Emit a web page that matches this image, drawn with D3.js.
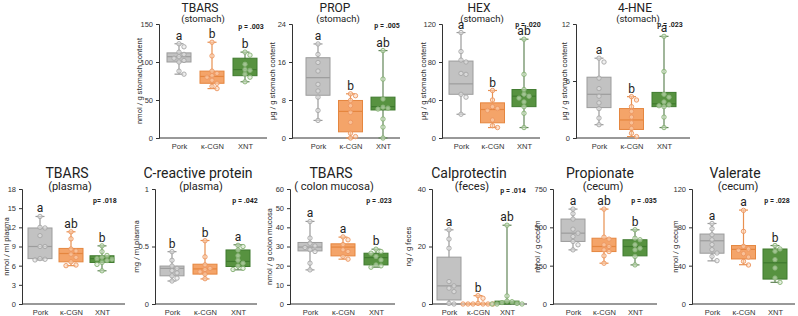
<!DOCTYPE html>
<html>
<head>
<meta charset="utf-8">
<script src="https://cdn.jsdelivr.net/npm/d3@7"></script>
<style>
  body { margin: 0; background: #fff; }
  svg { font-family: Roboto, "Liberation Sans", Arial, sans-serif; }
  .axis path, .axis line { stroke: #333; }
  .axis text { fill: #333; font-size: 7.5px; }
</style>
</head>
<body>
<svg width="798" height="316"></svg>
<script>
/* chart values, one small array per thing */
var groups = ["Pork", "κ-CGN", "XNT"];

var titles = ["TBARS", "PROP", "HEX", "4-HNE",
  "TBARS", "C-reactive protein", "TBARS", "Calprotectin", "Propionate", "Valerate"];
var subtitles = ["(stomach)", "(stomach)", "(stomach)", "(stomach)",
  "(plasma)", "(plasma)", "( colon mucosa)", "(feces)", "(cecum)", "(cecum)"];
var yLabels = ["nmol / g stomach content", "µg / g stomach content", "µg / g stomach content",
  "µg / g stomach content", "nmol / ml plasma", "mg / ml plasma", "nmol / g colon mucosa",
  "ng / g feces", "nmol / g cecum", "nmol / g cecum"];
var yMax = [150, 24, 120, 12, 18, 1, 60, 40, 750, 120];
var yTicks = [[0, 50, 100, 150], [0, 8, 16, 24], [0, 40, 80, 120], [0, 6, 12],
  [0, 3, 6, 9, 12, 15, 18], [0, 0.5, 1], [0, 10, 20, 30, 40, 50, 60], [0, 20, 40],
  [0, 250, 500, 750], [0, 40, 80, 120]];
var pValues = ["p = .003", "p = .005", "p = .020", "p = .023",
  "p= .018", "p = .042", "p = .023", "p = .014", "p = .035", "p = .028"];
var letters = [["a", "b", "b"], ["a", "b", "ab"], ["a", "b", "ab"], ["a", "b", "a"],
  ["a", "ab", "b"], ["b", "b", "a"], ["a", "a", "b"], ["a", "b", "ab"],
  ["a", "ab", "b"], ["a", "a", "b"]];

/* [min, q1, median, q3, max] per group */
var boxStats = [
  [[84, 100, 107, 112, 124], [65, 72, 81, 88, 126], [74, 82, 90, 105, 113]],
  [[3.7, 9.0, 12.7, 16.9, 19.8], [0, 1.3, 5.6, 7.9, 9.3], [0, 5.9, 6.6, 8.6, 18.4]],
  [[25, 46, 57, 81, 111], [11, 16, 30, 37, 50], [11, 33, 44, 51, 104]],
  [[1.4, 3.2, 4.6, 6.4, 8.4], [0.15, 0.9, 1.9, 3.1, 4.35], [1.1, 3.3, 3.6, 4.8, 10.7]],
  [[6.9, 7.1, 9.0, 11.9, 13.7], [6.0, 6.6, 7.9, 8.7, 11.3], [5.2, 6.5, 7.1, 7.55, 9.1]],
  [[0.2, 0.245, 0.31, 0.33, 0.455], [0.218, 0.26, 0.305, 0.346, 0.552], [0.297, 0.326, 0.37, 0.47, 0.515]],
  [[17.8, 27.7, 29.7, 32.1, 43.1], [23.4, 25.1, 29.7, 31.4, 34.9], [19.2, 20.4, 24.2, 26.5, 28.6]],
  [[0, 1.4, 6.3, 16.3, 25.8], [0, 0, 0, 0.2, 2.9], [0, 0, 0.5, 1.0, 27.4]],
  [[353, 408, 462, 554, 619], [266, 342, 375, 429, 619], [255, 314, 375, 419, 484]],
  [[45, 53, 66, 73, 84], [41, 47, 57, 61, 98], [22.6, 26, 43, 57.4, 61]]
];

var points = [
  [[124, 120, 113, 110, 107, 105, 102, 100, 88, 84], [126, 108, 88, 85, 82, 80, 76, 72, 68, 65], [113, 109, 97, 90, 89, 84, 80, 74]],
  [[19.8, 17.6, 15.9, 14.1, 11.3, 9.9, 8.6, 5.8, 3.7], [9.3, 8.9, 7.9, 6.8, 5.4, 3.3, 1.0, 0.3, 0], [18.4, 12.4, 8.2, 6.5, 6.3, 6.1, 4.0, 2.3, 0]],
  [[111, 91, 82, 80, 68, 67, 46, 43, 25], [50, 40, 33, 31, 29, 19, 13, 11], [104, 67, 51, 46, 44, 42, 38, 33, 26, 11]],
  [[8.4, 8.0, 6.3, 5.2, 4.4, 3.7, 3.1, 2.1, 1.4], [4.35, 4.0, 3.3, 2.8, 2.2, 1.6, 1.0, 0.5, 0.15], [10.7, 7.0, 4.6, 4.3, 3.8, 3.5, 3.4, 3.3, 2.2, 1.1]],
  [[13.7, 12.0, 11.9, 10.7, 9.0, 9.0, 7.1, 7.0, 6.9], [11.3, 10.2, 8.6, 8.3, 7.8, 7.3, 6.6, 6.1, 6.0], [9.1, 8.2, 7.6, 7.3, 7.1, 7.0, 6.8, 6.5, 6.2, 5.2]],
  [[0.455, 0.38, 0.33, 0.31, 0.29, 0.27, 0.245, 0.225, 0.2], [0.55, 0.41, 0.34, 0.31, 0.30, 0.28, 0.26, 0.22], [0.51, 0.5, 0.47, 0.42, 0.38, 0.355, 0.33, 0.31, 0.3]],
  [[43, 34.4, 31.7, 30.3, 29.5, 28.3, 27.4, 21.3, 17.8], [35, 33.5, 31, 28.3, 27.4, 24.8, 23.4], [28.6, 27.4, 26.5, 24.8, 23, 20.4, 19.9, 19.2]],
  [[25.8, 22.6, 19.4, 7.8, 6.3, 5.5, 4.3, 0.2, 0], [2.9, 2.0, 0.2, 0, 0, 0, 0, 0, 0], [27.4, 2.8, 1.0, 0.8, 0.5, 0.2, 0, 0, 0]],
  [[619, 589, 554, 488, 462, 440, 408, 386, 353], [619, 436, 423, 386, 375, 353, 342, 314, 266], [484, 429, 419, 386, 364, 353, 310, 255]],
  [[84, 78.6, 72.3, 67, 62, 56.7, 53.2, 49.7, 45.2], [97.7, 75.8, 60.2, 57.4, 56, 52.5, 49, 44.5, 40.7], [61, 57.4, 55, 46.3, 37.6, 27.1, 22.6]]
];

/* where each panel sits: axis x, axis end, top, bottom, first and last box centre, label spots */
var layout = [
  {ax: 159, end: 267, top: 24, bottom: 138, c0: 179, c2: 245, ylx: 139, tx: 200, py: 29, px: 251},
  {ax: 292, end: 400, top: 24, bottom: 138, c0: 318, c2: 383, ylx: 272, tx: 335, py: 28, px: 387},
  {ax: 442, end: 540, top: 24, bottom: 138, c0: 461, c2: 524, ylx: 423, tx: 479, py: 27, px: 528},
  {ax: 576, end: 690, top: 24, bottom: 138, c0: 599, c2: 664, ylx: 564, tx: 635, py: 27, px: 670},
  {ax: 22, end: 125, top: 189, bottom: 304, c0: 40, c2: 102, ylx: 6, tx: 67, py: 203, px: 105},
  {ax: 155, end: 257, top: 189, bottom: 304, c0: 172, c2: 238, ylx: 136, tx: 198, py: 203, px: 245},
  {ax: 290, end: 395, top: 189, bottom: 304, c0: 310, c2: 376, ylx: 269, tx: 331, py: 203, px: 379},
  {ax: 432, end: 527, top: 189, bottom: 304, c0: 449, c2: 507, ylx: 408, tx: 469, py: 193, px: 513},
  {ax: 553, end: 657, top: 189, bottom: 304, c0: 573, c2: 635, ylx: 537, tx: 600, py: 203, px: 644},
  {ax: 692, end: 795, top: 189, bottom: 304, c0: 712, c2: 775, ylx: 675, tx: 735, py: 203, px: 777}
];

var boxFill = ["#c2c2c2", "#f4a469", "#579240"];
var boxLine = ["#9c9c9c", "#e5863f", "#3f7a2e"];
var whiskerLine = ["#9a9a9a", "#e8904f", "#628558"];
var dotStroke = ["#a6a6a6", "#ec9560", "#86b174"];
var dotFill = ["#e6e6e6", "#fbd5b8", "#d3e6ca"];

var svg = d3.select("svg");
var boxW = 24, capW = 9;

layout.forEach(function(L, i) {
  var top = i < 4;
  var g = svg.append("g");

  var y = d3.scaleLinear().domain([0, yMax[i]]).range([L.bottom, L.top]);
  var x = d3.scalePoint().domain(groups).range([L.c0, L.c2]);

  /* axes */
  g.append("g")
      .attr("class", "axis")
      .attr("transform", "translate(" + L.ax + ",0)")
      .call(d3.axisLeft(y).tickValues(yTicks[i]).tickSize(3).tickPadding(3).tickFormat(d3.format("~g")));

  var xa = g.append("g")
      .attr("class", "axis")
      .attr("transform", "translate(0," + L.bottom + ")")
      .call(d3.axisBottom(x).tickSize(0).tickPadding(6));
  xa.select(".domain").attr("d", "M" + L.ax + ",0H" + L.end);

  /* titles */
  g.append("text")
      .attr("x", L.tx).attr("y", top ? 11.5 : 178)
      .attr("text-anchor", "middle")
      .style("font-size", top ? "12px" : "14px")
      .style("fill", "#222")
      .text(titles[i]);
  g.append("text")
      .attr("x", L.tx + 3).attr("y", top ? 21.5 : 190)
      .attr("text-anchor", "middle")
      .style("font-size", top ? "9.5px" : "11px")
      .style("fill", "#222")
      .text(subtitles[i]);

  g.append("text")
      .attr("x", L.px).attr("y", L.py)
      .attr("text-anchor", "middle")
      .style("font-size", "7px")
      .style("font-weight", "bold")
      .style("fill", "#222")
      .text(pValues[i]);

  g.append("text")
      .attr("transform", "translate(" + (L.ylx + 3) + "," + ((L.top + L.bottom) / 2) + ") rotate(-90)")
      .attr("text-anchor", "middle")
      .style("font-size", "7.5px")
      .style("fill", "#333")
      .text(yLabels[i]);

  /* boxes */
  groups.forEach(function(grp, k) {
    var s = boxStats[i][k], cx = x(grp);

    g.append("line")
        .attr("x1", cx).attr("x2", cx)
        .attr("y1", y(s[0])).attr("y2", y(s[4]))
        .attr("stroke", whiskerLine[k]).attr("stroke-width", 1.2);
    [s[0], s[4]].forEach(function(v) {
      g.append("line")
          .attr("x1", cx - capW / 2).attr("x2", cx + capW / 2)
          .attr("y1", y(v)).attr("y2", y(v))
          .attr("stroke", whiskerLine[k]).attr("stroke-width", 1.2);
    });

    g.append("rect")
        .attr("x", cx - boxW / 2)
        .attr("y", y(s[3]))
        .attr("width", boxW)
        .attr("height", Math.max(0.5, y(s[1]) - y(s[3])))
        .attr("fill", boxFill[k])
        .attr("stroke", boxLine[k])
        .attr("stroke-width", 1);

    g.append("line")
        .attr("x1", cx - boxW / 2).attr("x2", cx + boxW / 2)
        .attr("y1", y(s[2])).attr("y2", y(s[2]))
        .attr("stroke", boxLine[k]).attr("stroke-width", 1.2);

    /* dodge points that would sit on top of each other */
    var placed = [];
    var pts = points[i][k].slice().sort(d3.descending).map(function(v) {
      var py = y(v), offs = [0, 5, -5, 10, -10, 15, -15], dx = 0;
      for (var j = 0; j < offs.length; j++) {
        var ok = placed.every(function(p) {
          return Math.hypot(p.dx - offs[j], p.py - py) > 4.5;
        });
        if (ok) { dx = offs[j]; break; }
      }
      var p = {py: py, dx: dx};
      placed.push(p);
      return p;
    });

    g.selectAll(null)
      .data(pts)
      .enter().append("circle")
        .attr("cx", function(d) { return cx + d.dx; })
        .attr("cy", function(d) { return d.py; })
        .attr("r", 2.2)
        .attr("fill", dotFill[k])
        .attr("fill-opacity", 0.6)
        .attr("stroke", dotStroke[k])
        .attr("stroke-width", 0.9);

    g.append("text")
        .attr("x", cx).attr("y", y(s[4]) - 4)
        .attr("text-anchor", "middle")
        .style("font-size", "12px")
        .style("fill", "#222")
        .text(letters[i][k]);
  });
});
</script>
</body>
</html>
